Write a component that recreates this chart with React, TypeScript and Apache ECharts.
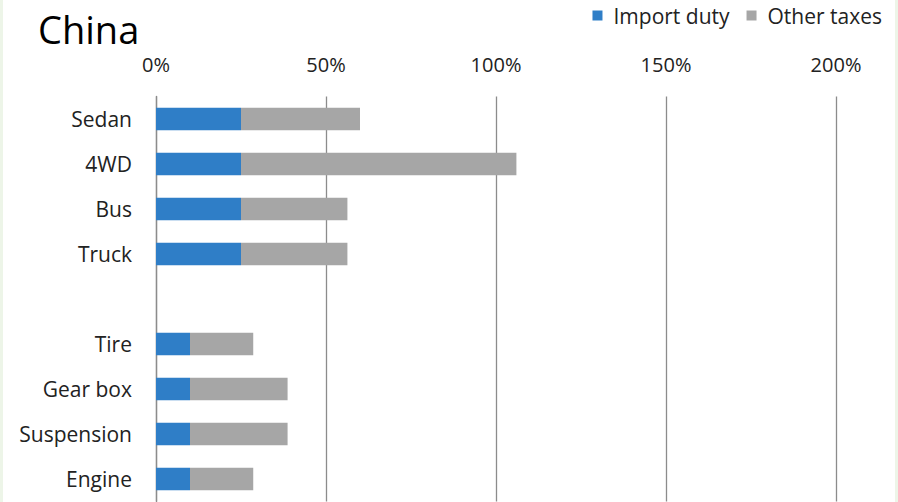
import React, { useEffect, useRef } from "react";
import * as echarts from "echarts";

const categories = ["Sedan", "4WD", "Bus", "Truck", "", "Tire", "Gear box", "Suspension", "Engine"];
const importDuty = [25, 25, 25, 25, null, 10, 10, 10, 10];
const otherTaxes = [35, 81, 31.3, 31.3, null, 18.6, 28.7, 28.7, 18.6];
const xTicks = [0, 50, 100, 150, 200];

const FONT = "'Open Sans', 'Noto Sans', sans-serif";

export default function App() {
  const ref = useRef<HTMLDivElement>(null);
  useEffect(() => {
    if (!ref.current) return;
    const chart = echarts.init(ref.current, null, { renderer: "svg" });
    chart.setOption({
      animation: false,
      backgroundColor: "#ffffff",
      title: {
        text: "China",
        left: 33,
        top: 5,
        textStyle: { fontFamily: FONT, fontSize: 38, fontWeight: "normal", color: "#000" },
      },
      legend: {
        right: 11,
        top: 0,
        icon: "rect",
        itemWidth: 10,
        itemHeight: 10,
        itemGap: 17,
        textStyle: { fontFamily: FONT, fontSize: 21, color: "#222", padding: [0, 0, 0, 6] },
        data: ["Import duty", "Other taxes"],
      },
      graphic: [
        { type: "rect", shape: { x: 0, y: 0, width: 3, height: 502 }, style: { fill: "#edf5e8" } },
        { type: "rect", shape: { x: 895, y: 0, width: 3, height: 502 }, style: { fill: "#edf5e8" } },
      ],
      grid: { left: 156, top: 96.5, width: 680, bottom: 0.5, containLabel: false },
      xAxis: {
        type: "value",
        position: "top",
        min: xTicks[0],
        max: xTicks[xTicks.length - 1],
        interval: 50,
        axisLine: { show: false },
        axisTick: { show: false },
        axisLabel: {
          formatter: "{value}%",
          margin: 22,
          fontFamily: FONT,
          fontSize: 20,
          color: "#222",
        },
        splitLine: { show: true, lineStyle: { color: "#8c8c8c", width: 1.3 } },
      },
      yAxis: {
        type: "category",
        inverse: true,
        data: categories,
        axisLine: { show: true, lineStyle: { color: "#8c8c8c", width: 1.3 } },
        axisTick: { show: false },
        axisLabel: { margin: 24, fontFamily: FONT, fontSize: 21, color: "#222" },
      },
      series: [
        {
          name: "Import duty",
          type: "bar",
          stack: "t",
          barWidth: "50%",
          data: importDuty,
          itemStyle: { color: "#2F7EC7" },
        },
        {
          name: "Other taxes",
          type: "bar",
          stack: "t",
          barWidth: "50%",
          data: otherTaxes,
          itemStyle: { color: "#A6A6A6" },
        },
      ],
    });
    return () => chart.dispose();
  }, []);
  return (
    <div
      ref={ref}
      style={{ position: "fixed", left: 0, top: 0, width: 898, height: 502 }}
    />
  );
}
